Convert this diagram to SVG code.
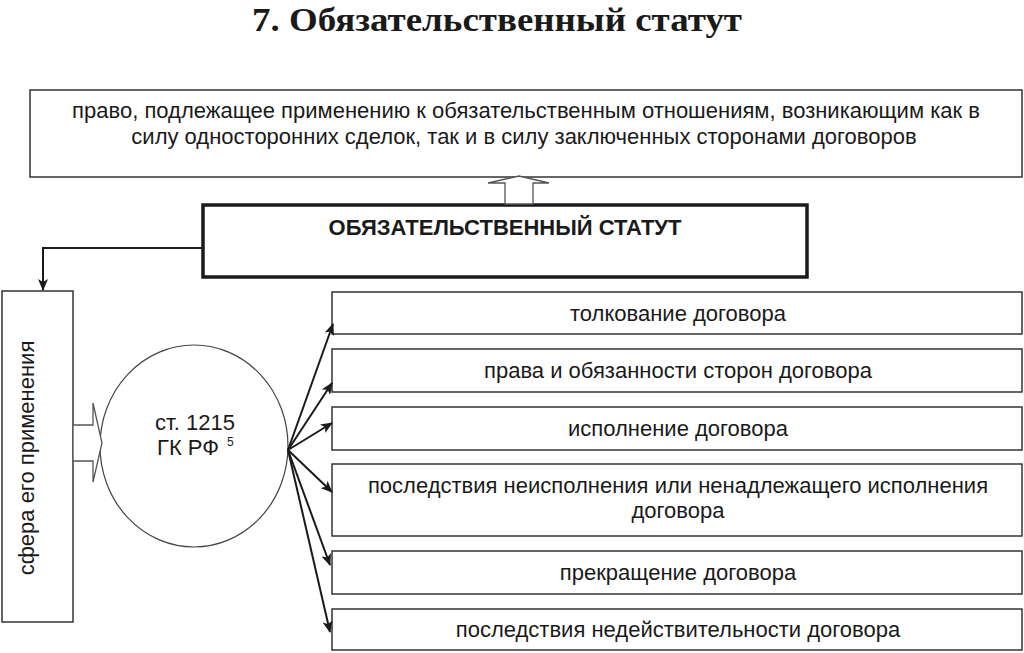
<svg xmlns="http://www.w3.org/2000/svg" width="1024" height="653" viewBox="0 0 1024 653">
<style>
.box{fill:#fff;stroke:#333;stroke-width:1.5}
.thick{fill:#fff;stroke:#1a1a1a;stroke-width:3.5}
.t{font-family:"Liberation Sans",Arial,sans-serif;font-size:22px;fill:#1a1a1a;text-anchor:middle}
.b{font-weight:bold}
.con{stroke:#1a1a1a;stroke-width:2;fill:none}
.hollow{fill:#fff;stroke:#555;stroke-width:1.3}
</style>
<defs>
<marker id="ah" viewBox="0 0 12 10" refX="11" refY="5" markerWidth="12" markerHeight="10" markerUnits="userSpaceOnUse" orient="auto">
<path d="M0,0 L12,5 L0,10 L3,5 Z" fill="#1a1a1a"/>
</marker>
</defs>
<text x="497" y="31" font-family="Liberation Serif,'Times New Roman',serif" font-size="33" font-weight="bold" text-anchor="middle" fill="#1a1a1a" textLength="490" lengthAdjust="spacingAndGlyphs">7. Обязательственный статут</text>
<g id="top">
<rect class="box" x="30" y="90" width="992" height="87"/>
<text class="t" x="526" y="118">право, подлежащее применению к обязательственным отношениям, возникающим как в</text>
<text class="t" x="524" y="144">силу односторонних сделок, так и в силу заключенных сторонами договоров</text>
</g>
<g id="main">
<rect class="thick" x="203" y="205" width="604" height="72"/>
<text class="t b" x="505" y="235">ОБЯЗАТЕЛЬСТВЕННЫЙ СТАТУТ</text>
</g>
<g id="sphere">
<rect class="box" x="2" y="291" width="71" height="331"/>
<text class="t" transform="translate(34,458) rotate(-90)">сфера его применения</text>
</g>
<g id="article">
<ellipse cx="194" cy="446" rx="94" ry="101" fill="#fff" stroke="#444" stroke-width="1.2"/>
<text class="t" x="195" y="430">ст. 1215</text>
<text class="t" x="188" y="455">ГК РФ</text>
<text x="227" y="446" font-family="Liberation Sans,Arial,sans-serif" font-size="12" fill="#1a1a1a">5</text>
</g>
<g id="r1"><rect class="box" x="332" y="292" width="690" height="42"/><text class="t" x="678" y="321">толкование договора</text></g>
<g id="r2"><rect class="box" x="332" y="349" width="690" height="43"/><text class="t" x="678" y="378">права и обязанности сторон договора</text></g>
<g id="r3"><rect class="box" x="332" y="407" width="690" height="43"/><text class="t" x="678" y="436">исполнение договора</text></g>
<g id="r4"><rect class="box" x="332" y="464" width="690" height="72"/><text class="t" x="678" y="493">последствия неисполнения или ненадлежащего исполнения</text><text class="t" x="678" y="518">договора</text></g>
<g id="r5"><rect class="box" x="332" y="551" width="690" height="43"/><text class="t" x="678" y="580">прекращение договора</text></g>
<g id="r6"><rect class="box" x="332" y="609" width="690" height="41"/><text class="t" x="678" y="637">последствия недействительности договора</text></g>
<g id="connectors">
<polygon class="hollow" points="505,204 505,183 488,183 519,176 549,183 533,183 533,204"/>
<polyline class="con" points="203,248 43,248 43,290" marker-end="url(#ah)"/>
<polygon class="hollow" points="73,425 93,425 93,403 102,443 93,482 93,461 73,461"/>
<line class="con" x1="288" y1="450" x2="333" y2="324" marker-end="url(#ah)"/>
<line class="con" x1="288" y1="450" x2="332" y2="383" marker-end="url(#ah)"/>
<line class="con" x1="288" y1="450" x2="332" y2="423" marker-end="url(#ah)"/>
<line class="con" x1="288" y1="450" x2="332" y2="492" marker-end="url(#ah)"/>
<line class="con" x1="288" y1="450" x2="330" y2="565" marker-end="url(#ah)"/>
<line class="con" x1="288" y1="450" x2="330" y2="632" marker-end="url(#ah)"/>
</g>
</svg>
